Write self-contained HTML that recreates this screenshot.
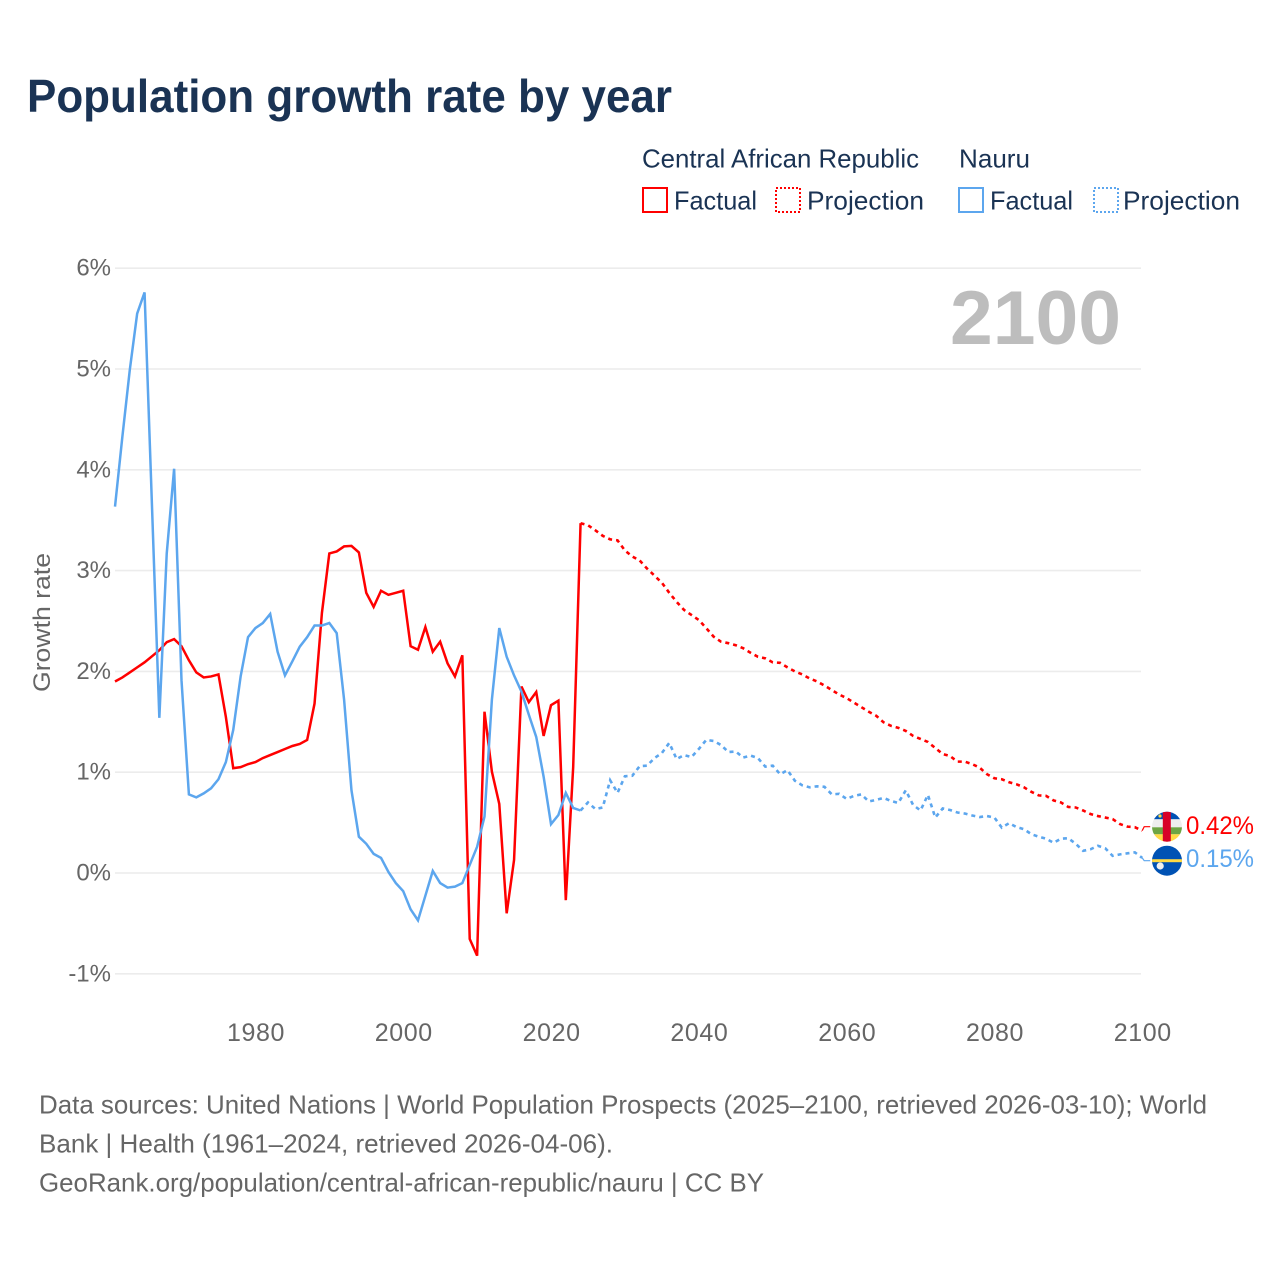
<!DOCTYPE html>
<html lang="en">
<head>
<meta charset="utf-8">
<title>Population growth rate by year</title>
<style>
html,body{margin:0;padding:0;background:#fff;}
svg{display:block;font-family:"Liberation Sans",sans-serif;}
</style>
</head>
<body>
<svg id="chart" xmlns="http://www.w3.org/2000/svg" width="1280" height="1280" viewBox="0 0 1280 1280">
  <defs>
    <clipPath id="flag-clip-a"><circle cx="1167" cy="826.7" r="15"/></clipPath>
    <clipPath id="flag-clip-b"><circle cx="1167" cy="860.7" r="15"/></clipPath>
  </defs>
  <rect width="1280" height="1280" fill="#fff"/>
  <text x="27" y="112" font-size="46" font-weight="700" fill="#1a3354" textLength="645" lengthAdjust="spacingAndGlyphs">Population growth rate by year</text>

  <g font-size="26" fill="#1a3354">
    <text x="642" y="167.5" textLength="277" lengthAdjust="spacingAndGlyphs">Central African Republic</text>
    <text x="959" y="167.5" textLength="71" lengthAdjust="spacingAndGlyphs">Nauru</text>
    <rect x="643" y="188" width="24" height="24" fill="none" stroke="#ff0000" stroke-width="2"/>
    <text x="674" y="209.5" textLength="83" lengthAdjust="spacingAndGlyphs">Factual</text>
    <rect x="776" y="188" width="24" height="24" fill="none" stroke="#ff0000" stroke-width="2" stroke-dasharray="2 2"/>
    <text x="807" y="209.5" textLength="117" lengthAdjust="spacingAndGlyphs">Projection</text>
    <rect x="959" y="188" width="24" height="24" fill="none" stroke="#5ca6ee" stroke-width="2"/>
    <text x="990" y="209.5" textLength="83" lengthAdjust="spacingAndGlyphs">Factual</text>
    <rect x="1094" y="188" width="24" height="24" fill="none" stroke="#5ca6ee" stroke-width="2" stroke-dasharray="2 2"/>
    <text x="1123" y="209.5" textLength="117" lengthAdjust="spacingAndGlyphs">Projection</text>
  </g>

  <g id="grid"></g>
  <g id="yticks" font-size="24" fill="#666666" text-anchor="end"></g>
  <g id="xticks" font-size="25" fill="#666666" text-anchor="middle" letter-spacing="0.6"></g>
  <text transform="translate(50,692) rotate(-90)" font-size="24" fill="#666666" textLength="139" lengthAdjust="spacingAndGlyphs">Growth rate</text>
  <text x="950" y="344" font-size="76" font-weight="700" fill="#bdbdbd" textLength="171" lengthAdjust="spacingAndGlyphs">2100</text>
  <g id="series"></g>

  <g clip-path="url(#flag-clip-a)">
    <rect x="1152" y="811" width="30" height="8.3" fill="#0052b4"/>
    <rect x="1152" y="819.3" width="30" height="8" fill="#eeeeee"/>
    <rect x="1152" y="827.3" width="30" height="7" fill="#6da544"/>
    <rect x="1152" y="834.3" width="30" height="8" fill="#ffda44"/>
    <rect x="1162.8" y="811" width="8" height="31" fill="#d80027"/>
    <circle cx="1160" cy="816" r="1.6" fill="#ffda44"/>
  </g>
  <g clip-path="url(#flag-clip-b)">
    <rect x="1152" y="845" width="30" height="31" fill="#0052b4"/>
    <rect x="1152" y="859.2" width="30" height="3" fill="#ffda44"/>
    <circle cx="1160.2" cy="866" r="3.6" fill="#f0f0f0"/>
  </g>
  <text x="1186" y="834" font-size="25" fill="#ff0000" textLength="68" lengthAdjust="spacingAndGlyphs">0.42%</text>
  <text x="1186" y="867" font-size="25" fill="#5ca6ee" textLength="68" lengthAdjust="spacingAndGlyphs">0.15%</text>

  <g font-size="26" fill="#666666">
    <text x="39" y="1113.5" textLength="1168" lengthAdjust="spacingAndGlyphs">Data sources: United Nations | World Population Prospects (2025–2100, retrieved 2026-03-10); World</text>
    <text x="39" y="1152.5" textLength="574" lengthAdjust="spacingAndGlyphs">Bank | Health (1961–2024, retrieved 2026-04-06).</text>
    <text x="39" y="1191.5" textLength="725" lengthAdjust="spacingAndGlyphs">GeoRank.org/population/central-african-republic/nauru | CC BY</text>
  </g>
</svg>

<script>
const factualStartYear = 1961;
const projectionStartYear = 2024;
const yTickValues = [-1, 0, 1, 2, 3, 4, 5, 6];
const xTickYears = [1980, 2000, 2020, 2040, 2060, 2080, 2100];
const carFactual = [
  1.90,1.94,1.99,2.04,2.09,2.15,2.21,2.29,2.32,2.25,
  2.11,1.99,1.94,1.95,1.97,1.55,1.04,1.05,1.08,1.10,
  1.14,1.17,1.20,1.23,1.26,1.28,1.32,1.68,2.58,3.17,
  3.19,3.24,3.245,3.18,2.78,2.64,2.80,2.76,2.78,2.80,
  2.25,2.215,2.44,2.195,2.295,2.08,1.95,2.16,-0.655,-0.82,
  1.60,1.005,0.685,-0.40,0.13,1.85,1.695,1.795,1.36,1.665,
  1.71,-0.27,1.05,3.47
];
const nauruFactual = [
  3.635,4.33,4.99,5.55,5.76,3.65,1.54,3.17,4.01,1.91,
  0.78,0.75,0.79,0.84,0.93,1.10,1.42,1.95,2.34,2.43,
  2.48,2.57,2.195,1.96,2.10,2.245,2.34,2.455,2.455,2.48,
  2.38,1.72,0.82,0.36,0.29,0.19,0.15,0.01,-0.10,-0.18,
  -0.36,-0.47,-0.225,0.02,-0.10,-0.145,-0.135,-0.10,0.08,0.26,
  0.56,1.72,2.43,2.145,1.96,1.80,1.57,1.35,0.955,0.485,
  0.575,0.795,0.645,0.62
];
const carProjection = [
  3.47,3.45,3.40,3.345,3.31,3.30,3.20,3.14,3.10,3.02,
  2.95,2.88,2.78,2.69,2.61,2.56,2.51,2.43,2.345,2.295,
  2.28,2.26,2.23,2.185,2.145,2.13,2.09,2.085,2.04,2.00,
  1.97,1.93,1.90,1.86,1.815,1.77,1.735,1.69,1.645,1.60,
  1.56,1.495,1.46,1.44,1.41,1.36,1.33,1.30,1.24,1.18,
  1.16,1.105,1.105,1.08,1.045,0.98,0.94,0.93,0.90,0.88,
  0.85,0.805,0.77,0.765,0.72,0.70,0.655,0.65,0.62,0.585,
  0.565,0.55,0.535,0.485,0.46,0.455,0.42
];
const nauruProjection = [
  0.62,0.70,0.635,0.65,0.92,0.795,0.96,0.965,1.06,1.065,
  1.14,1.19,1.29,1.13,1.17,1.15,1.23,1.32,1.31,1.27,
  1.20,1.205,1.145,1.165,1.14,1.055,1.065,0.98,1.02,0.915,
  0.87,0.85,0.86,0.855,0.78,0.785,0.735,0.765,0.78,0.71,
  0.725,0.745,0.715,0.695,0.82,0.675,0.62,0.775,0.55,0.64,
  0.625,0.60,0.59,0.57,0.555,0.565,0.55,0.45,0.495,0.455,
  0.435,0.385,0.36,0.34,0.30,0.34,0.345,0.29,0.22,0.235,
  0.27,0.245,0.17,0.185,0.195,0.205,0.15
];

const SVG_NS = 'http://www.w3.org/2000/svg';
const xScale = function (year) { return 115 + (year - 1961) * 7.39; };
const yScale = function (value) { return 873 - 100.8 * value; };

function pathFor(values, startYear) {
  return values.map(function (v, i) {
    return (i ? 'L' : 'M') + xScale(startYear + i).toFixed(2) + ' ' + yScale(v).toFixed(2);
  }).join(' ');
}

const gridGroup = document.getElementById('grid');
const yTickGroup = document.getElementById('yticks');
yTickValues.forEach(function (v) {
  const line = document.createElementNS(SVG_NS, 'line');
  
  
  line.setAttribute('x1', 115);
  line.setAttribute('x2', 1141);
  line.setAttribute('y1', yScale(v));
  line.setAttribute('y2', yScale(v));
  line.setAttribute('stroke', '#ececec');
  line.setAttribute('stroke-width', 1.6);
  gridGroup.appendChild(line);
  const label = document.createElementNS(SVG_NS, 'text');
  
  
  label.setAttribute('x', 111);
  label.setAttribute('y', yScale(v) + 7.5);
  label.textContent = v + '%';
  yTickGroup.appendChild(label);
});

const xTickGroup = document.getElementById('xticks');
xTickYears.forEach(function (year) {
  const label = document.createElementNS(SVG_NS, 'text');
  
  
  label.setAttribute('x', xScale(year) + 0.6);
  label.setAttribute('y', 1041);
  label.textContent = year;
  xTickGroup.appendChild(label);
});

const seriesGroup = document.getElementById('series');
function addLine(name, values, startYear, color, dash) {
  const p = document.createElementNS(SVG_NS, 'path');
  
  
  p.setAttribute('d', pathFor(values, startYear));
  p.setAttribute('fill', 'none');
  p.setAttribute('stroke', color);
  p.setAttribute('stroke-width', dash ? 2.6 : 2.5);
  p.setAttribute('stroke-linejoin', 'miter');
  if (dash) p.setAttribute('stroke-dasharray', dash);
  seriesGroup.appendChild(p);
}
function addConnector(name, lastValue, labelY, color) {
  const p = document.createElementNS(SVG_NS, 'path');
  
  
  const x0 = xScale(2100);
  p.setAttribute('d', 'M' + x0 + ' ' + yScale(lastValue) + ' L' + (x0 + 2) + ' ' + labelY + ' L' + (x0 + 8) + ' ' + labelY);
  p.setAttribute('fill', 'none');
  p.setAttribute('stroke', color);
  p.setAttribute('stroke-width', 1.2);
  seriesGroup.appendChild(p);
}
addLine('car-factual-line', carFactual, factualStartYear, '#ff0000');
addLine('car-projection-line', carProjection, projectionStartYear, '#ff0000', '4 4');
addLine('nauru-factual-line', nauruFactual, factualStartYear, '#5ca6ee');
addLine('nauru-projection-line', nauruProjection, projectionStartYear, '#5ca6ee', '4 4');
addConnector('car-label-connector', carProjection[carProjection.length - 1], 826.7, '#ff0000');
addConnector('nauru-label-connector', nauruProjection[nauruProjection.length - 1], 860.7, '#5ca6ee');
</script>
</body>
</html>
